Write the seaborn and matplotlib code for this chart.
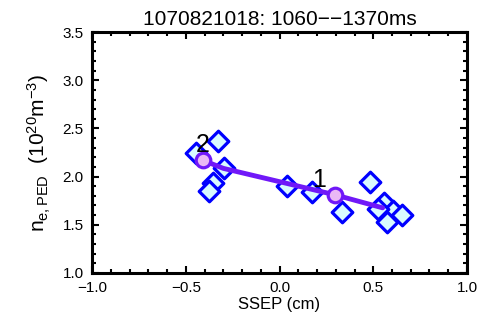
import matplotlib
matplotlib.use('Agg')
import matplotlib.pyplot as plt
from matplotlib.ticker import MultipleLocator
import pandas as pd
import seaborn as sns

# measured points
ssep = [-0.445, -0.328, -0.296, -0.355, -0.376, 0.04, 0.173, 0.333,
        0.483, 0.557, 0.605, 0.573, 0.653, 0.525]
ne_ped = [2.245, 2.37, 2.09, 1.93, 1.85, 1.90, 1.84, 1.63,
          1.94, 1.73, 1.64, 1.53, 1.60, 1.66]

# trend line and labelled time points
trend_x = [-0.41, -0.30, 0.296, 0.55]
trend_y = [2.17, 2.085, 1.81, 1.675]
mark_x = [0.296, -0.41]
mark_y = [1.81, 2.17]
mark_labels = ['1', '2']

sns.set_style('ticks', {'axes.edgecolor': 'black', 'xtick.color': 'black',
                        'ytick.color': 'black', 'text.color': 'black',
                        'axes.labelcolor': 'black'})
plt.rcParams['font.family'] = ['Liberation Sans', 'DejaVu Sans']
plt.rcParams['mathtext.fontset'] = 'custom'
plt.rcParams['mathtext.rm'] = 'Liberation Sans'
plt.rcParams['mathtext.it'] = 'Liberation Sans'

fig = plt.figure(figsize=(4.9, 3.21), dpi=100)
ax = fig.add_axes([0.188, 0.150, 0.765, 0.750])

df = pd.DataFrame({'x': ssep, 'y': ne_ped})
sns.scatterplot(data=df, x='x', y='y', marker='D', s=110, facecolor='#d8faff',
                edgecolor='#0000ff', linewidth=2.3, ax=ax, zorder=2)
sns.lineplot(x=trend_x, y=trend_y, color='#7018f8', linewidth=3.5, ax=ax,
             sort=False, zorder=3)
sns.scatterplot(x=mark_x, y=mark_y, marker='o', s=110, facecolor='#eab8f5',
                edgecolor='#7018f8', linewidth=2.3, ax=ax, zorder=4)
label_dx = [-0.085, 0.0]
for x, y, t, dx in zip(mark_x, mark_y, mark_labels, label_dx):
    ax.text(x + dx, y + 0.03, t, fontsize=18, ha='center', va='bottom',
            color='black', zorder=5)

ax.set_xlim(-1.0, 1.0)
ax.set_ylim(1.0, 3.5)
ax.xaxis.set_major_locator(MultipleLocator(0.5))
ax.xaxis.set_minor_locator(MultipleLocator(0.1))
ax.yaxis.set_major_locator(MultipleLocator(0.5))
ax.yaxis.set_minor_locator(MultipleLocator(0.1))
ax.xaxis.set_major_formatter(plt.FuncFormatter(lambda v, p: f'{v:.1f}'.replace('-', '\u2212')))
ax.yaxis.set_major_formatter(plt.FuncFormatter(lambda v, p: f'{v:.1f}'))
ax.tick_params(which='both', direction='in', top=True, right=True, width=1.5,
               labelsize=11, pad=6, colors='black')
ax.tick_params(which='major', length=5)
ax.tick_params(which='minor', length=3)
for s in ax.spines.values():
    s.set_linewidth(2.2)
    s.set_color('black')

ax.set_xlabel('SSEP (cm)', fontsize=12, labelpad=1)
ax.set_ylabel(r'n$_{e,PED}$  (10$^{20}$m$^{-3}$)', fontsize=15, labelpad=7)
ax.set_title('1070821018: 1060\u2212\u22121370ms', fontsize=15, pad=5)

plt.savefig('out.png', dpi=100)
